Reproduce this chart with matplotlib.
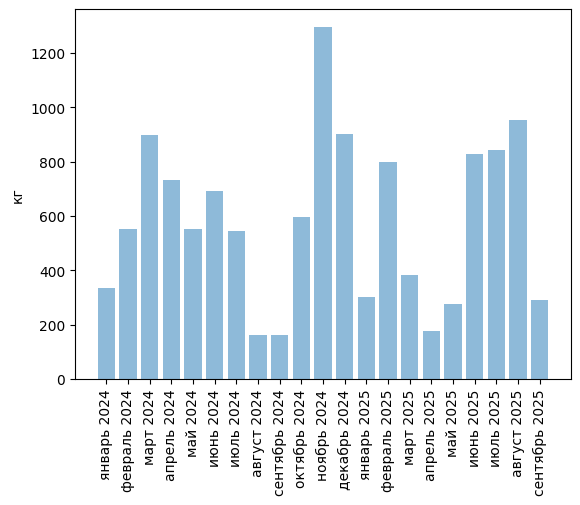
import matplotlib
matplotlib.use("Agg")
import matplotlib.pyplot as plt

months = ["январь 2024", "февраль 2024", "март 2024", "апрель 2024", "май 2024",
          "июнь 2024", "июль 2024", "август 2024", "сентябрь 2024", "октябрь 2024",
          "ноябрь 2024", "декабрь 2024", "январь 2025", "февраль 2025", "март 2025",
          "апрель 2025", "май 2025", "июнь 2025", "июль 2025", "август 2025",
          "сентябрь 2025"]
values = [335, 553, 899, 733, 553, 693, 545, 162, 162, 597, 1297,
          903, 302, 800, 383, 177, 276, 829, 844, 955, 291]

fig = plt.figure(figsize=(5.8, 5.06), dpi=100)
ax = fig.add_axes([75/580, 1-380/506, (571-75)/580, (380-10)/506])
ax.bar(range(len(months)), values, color="#1f77b4", alpha=0.5)
ax.set_xticks(range(len(months)))
ax.set_xticklabels(months, rotation=90)
ax.set_ylabel("кг")
fig.savefig("out.png", dpi=100)
